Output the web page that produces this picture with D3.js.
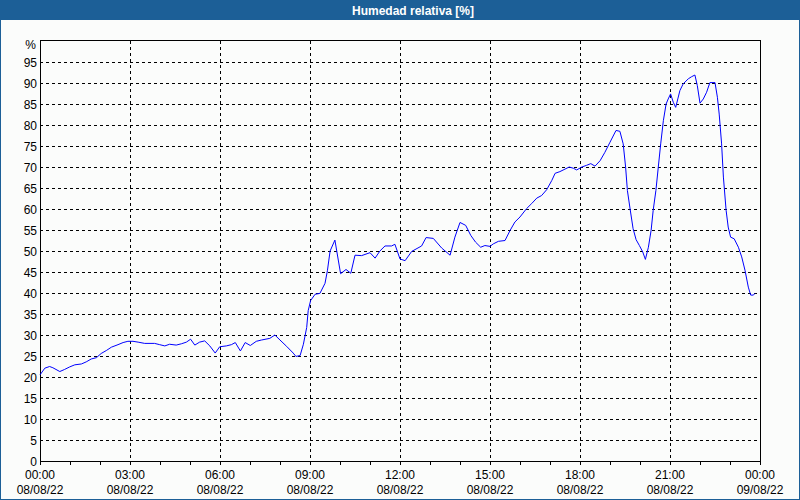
<!DOCTYPE html>
<html>
<head>
<meta charset="utf-8">
<script src="https://cdn.jsdelivr.net/npm/d3@7"></script>
<style>
html,body{margin:0;padding:0;background:#fbfcfb;}
svg{display:block;}
text{font-family:"Liberation Sans",Arial,sans-serif;}
</style>
</head>
<body>
<svg id="chart" width="800" height="500"></svg>
<script>
// Hours since 08/08/22 00:00
const hours = [0.00,0.16,0.32,0.43,0.66,0.82,0.99,1.16,1.38,1.54,1.71,1.88,2.04,2.21,2.38,2.60,2.77,2.93,3.10,3.27,3.49,3.82,3.99,4.16,4.32,4.54,4.71,4.88,5.02,5.16,5.32,5.49,5.66,5.84,5.99,6.21,6.38,6.51,6.68,6.84,7.01,7.21,7.38,7.66,7.83,8.00,8.22,8.44,8.53,8.67,8.78,8.89,8.94,9.02,9.17,9.33,9.50,9.58,9.67,9.83,10.02,10.20,10.36,10.50,10.72,11.00,11.17,11.33,11.50,11.72,11.83,12.00,12.17,12.39,12.72,12.87,13.11,13.39,13.67,13.83,14.00,14.19,14.36,14.52,14.69,14.83,15.00,15.11,15.28,15.50,15.67,15.83,16.00,16.22,16.39,16.56,16.72,16.89,17.06,17.17,17.33,17.50,17.64,17.78,17.89,18.06,18.22,18.36,18.50,18.67,18.83,19.00,19.20,19.33,19.44,19.52,19.58,19.67,19.77,19.87,19.98,20.09,20.18,20.28,20.37,20.44,20.53,20.61,20.69,20.78,20.87,20.94,21.02,21.11,21.19,21.26,21.33,21.44,21.61,21.72,21.83,21.91,22.00,22.11,22.22,22.33,22.50,22.58,22.64,22.72,22.78,22.87,22.94,23.02,23.14,23.28,23.39,23.50,23.61,23.69,23.78,23.83];
// Relative humidity [%]
const humidity = [20.5,22.1,22.5,22.2,21.3,21.8,22.4,22.9,23.1,23.6,24.3,24.6,25.6,26.3,27.1,27.7,28.2,28.5,28.5,28.3,28.0,28.0,27.7,27.4,27.8,27.6,27.9,28.3,29.0,27.6,28.3,28.6,27.4,25.7,27.2,27.4,27.7,28.2,26.2,28.2,27.5,28.5,28.8,29.2,30.0,28.8,27.3,25.7,24.9,25.1,27.8,31.8,35.8,38.2,39.7,39.9,42.3,45.3,50.0,52.6,44.6,45.6,44.7,49.0,48.9,49.6,48.3,50.0,51.2,51.2,51.6,48.1,47.7,49.9,51.2,53.2,53.0,50.7,49.0,53.3,56.8,56.1,53.7,52.1,50.9,51.3,51.1,51.7,52.3,52.5,54.9,56.9,58.1,60.1,61.3,62.6,63.2,64.6,66.8,68.5,68.9,69.5,70.0,69.7,69.3,70.0,70.4,70.8,70.2,71.5,73.5,75.9,78.7,78.5,75.5,70.0,64.4,60.0,55.3,52.7,51.3,49.8,48.0,50.9,54.9,59.7,64.4,70.0,75.5,81.1,85.0,86.2,87.4,85.4,84.2,86.2,88.2,89.8,91.0,91.5,91.9,89.4,85.2,86.2,87.8,90.1,90.1,86.6,82.6,75.5,67.6,59.7,55.7,53.3,52.9,50.9,48.6,45.4,41.4,39.5,39.5,39.9];

const majorHours = [0,3,6,9,12,15,18,21,24];
const timeLabels = ["00:00","03:00","06:00","09:00","12:00","15:00","18:00","21:00","00:00"];
const dateLabels = ["08/08/22","08/08/22","08/08/22","08/08/22","08/08/22","08/08/22","08/08/22","08/08/22","09/08/22"];
const yTicks = [0,5,10,15,20,25,30,35,40,45,50,55,60,65,70,75,80,85,90,95];
const title = "Humedad relativa [%]";
const unit = "%";

(function(){
const svg = d3.select("#chart");
const W = 800, H = 500;
const frameColor = "#1c5f97";
const pLeft = 40, pRight = 760, pTop = 41, pBottom = 461;

const x = d3.scaleLinear().domain([0,24]).range([pLeft,pRight]);
const y = d3.scaleLinear().domain([0,100]).range([pBottom,pTop]);

svg.append("rect").attr("width",W).attr("height",H).attr("fill","#fbfcfb");

// title bar
svg.append("rect").attr("x",0).attr("y",0).attr("width",W).attr("height",20).attr("fill",frameColor);
svg.append("text").attr("x",413).attr("y",14.5).attr("text-anchor","middle")
  .attr("fill","#ffffff").attr("font-weight","bold").attr("font-size","12px").text(title);

// outer frame
svg.append("rect").attr("x",0.5).attr("y",0.5).attr("width",W-1).attr("height",H-1)
  .attr("fill","none").attr("stroke",frameColor).attr("stroke-width",1);

// horizontal grid
svg.append("g").selectAll("line").data(yTicks.filter(d=>d>0)).join("line")
  .attr("x1",pLeft).attr("x2",pRight)
  .attr("y1",d=>Math.round(y(d))+0.5).attr("y2",d=>Math.round(y(d))+0.5)
  .attr("stroke","#000").attr("stroke-width",1).attr("stroke-dasharray","3,3")
  .attr("shape-rendering","crispEdges");

// vertical grid
svg.append("g").selectAll("line").data(majorHours.filter(d=>d>0&&d<24)).join("line")
  .attr("x1",d=>Math.round(x(d))+0.5).attr("x2",d=>Math.round(x(d))+0.5)
  .attr("y1",pTop).attr("y2",pBottom)
  .attr("stroke","#000").attr("stroke-width",1).attr("stroke-dasharray","3,3")
  .attr("shape-rendering","crispEdges");

// x axis with hourly minor ticks
const xAxis = d3.axisBottom(x).tickValues(d3.range(0,25,1)).tickSize(3).tickFormat("");
const gx = svg.append("g").attr("transform",`translate(0,${pBottom+0.5})`).call(xAxis);
gx.select(".domain").remove();
gx.selectAll("line").attr("stroke","#000").attr("shape-rendering","crispEdges");

// plot frame
svg.append("rect").attr("x",pLeft+0.5).attr("y",pTop-0.5).attr("width",pRight-pLeft).attr("height",pBottom-pTop+1)
  .attr("fill","none").attr("stroke","#000").attr("stroke-width",1).attr("shape-rendering","crispEdges");

// y labels
svg.append("g").selectAll("text").data(yTicks).join("text")
  .attr("x",37).attr("y",d=>y(d)+4.5).attr("text-anchor","end")
  .attr("font-size","12px").attr("fill","#000").text(d=>d);
svg.append("text").attr("x",36).attr("y",49).attr("text-anchor","end")
  .attr("font-size","12px").attr("fill","#000").text(unit);

// x labels
svg.append("g").selectAll("text").data(majorHours).join("text")
  .attr("x",d=>x(d)).attr("y",479).attr("text-anchor","middle")
  .attr("font-size","12px").attr("fill","#000").text((d,i)=>timeLabels[i]);
svg.append("g").selectAll("text").data(majorHours).join("text")
  .attr("x",d=>x(d)).attr("y",494).attr("text-anchor","middle")
  .attr("font-size","12px").attr("fill","#000").text((d,i)=>dateLabels[i]);

// data line
const data = hours.map((h,i)=>({h, v: humidity[i]}));
svg.append("path").datum(data)
  .attr("fill","none").attr("stroke","#0000ff").attr("stroke-width",1)
  .attr("d", d3.line().x(d=>x(d.h)).y(d=>y(d.v)));
})();
</script>
</body>
</html>
